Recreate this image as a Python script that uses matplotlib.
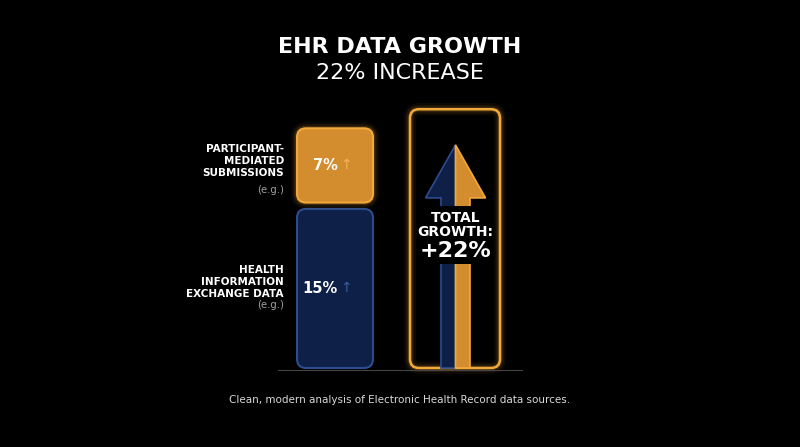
import matplotlib
matplotlib.use("Agg")
import matplotlib.pyplot as plt
from matplotlib.patches import FancyBboxPatch, Polygon

categories = ["HEALTH\nINFORMATION\nEXCHANGE DATA", "PARTICIPANT-\nMEDIATED\nSUBMISSIONS"]
values = [15, 7]
value_labels = ["15%", "7%"]
total = sum(values)

BG = "#000000"
ORANGE = "#D38D2E"
ORANGE_EDGE = "#F2A93B"
BLUE = "#0E2048"
BLUE_EDGE = "#2C4C8E"
S = 10.6  # px per percent

fig = plt.figure(figsize=(8, 4.47), dpi=100, facecolor=BG)
ax = fig.add_axes([0, 0, 1, 1])
ax.set_facecolor(BG)
ax.set_xlim(0, 800)
ax.set_ylim(-7.45, 34.7)
ax.axis("off")

def py(p):
    return (368 - p) / S

def glow_box(x0, y0, w, h, fc, ec, lw=1.5, glow=True):
    st = "round,pad=0,rounding_size=9"
    if glow:
        for k, a in [(9, 0.05), (6, 0.08), (3.5, 0.15)]:
            ax.add_patch(FancyBboxPatch((x0, y0), w, h, boxstyle=st,
                                        mutation_aspect=1 / S, fc="none", ec=ec, lw=k, alpha=a))
    ax.add_patch(FancyBboxPatch((x0, y0), w, h, boxstyle=st,
                                mutation_aspect=1 / S, fc=fc, ec=ec, lw=lw))

bx, bw, gap = 297, 76, 0.6
bars = ax.bar([bx + bw / 2] * 2, values, bottom=[0, values[0] + gap], width=bw, color="none")
fills = [(BLUE, BLUE_EDGE), (ORANGE, ORANGE_EDGE)]
for r, (fc, ec) in zip(bars, fills):
    glow_box(r.get_x(), r.get_y(), r.get_width(), r.get_height(), fc, ec, lw=1.5, glow=(fc == ORANGE))

for r, lab, acol in zip(bars, value_labels, ["#3A5A98", "#F6B35A"]):
    cy = r.get_y() + r.get_height() / 2
    ax.text(r.get_x() + r.get_width() / 2 + 3, cy, lab, color="white", fontsize=10.5,
            fontweight="bold", ha="right", va="center")
    ax.text(r.get_x() + r.get_width() / 2 + 11, cy, "↑", color=acol, fontsize=10,
            ha="center", va="center")

# category labels: (first-line top px, e.g. centre px)
label_pos = [(265, 305), (144, 190)]
for r, cat, (t, e) in zip(bars, categories, label_pos):
    ax.text(284, py(t), cat, color="white", fontsize=7.5, fontweight="bold", ha="right",
            va="top", linespacing=1.25)
    ax.text(284, py(e), "(e.g.)", color="#A0A0A0", fontsize=7.3, ha="right", va="center")

glow_box(410, 0, 90, total + 2.4, "none", ORANGE_EDGE, lw=1.8)

cx = 455.5
shaft_w, head_w = 14.5, 30
head_base, tip = py(198), py(145)
left = Polygon([(cx - shaft_w, 0), (cx - shaft_w, head_base), (cx - head_w, head_base), (cx, tip), (cx, 0)],
               closed=True, fc=BLUE, ec=BLUE_EDGE, lw=1.2)
right = Polygon([(cx, 0), (cx, tip), (cx + head_w, head_base), (cx + shaft_w, head_base), (cx + shaft_w, 0)],
                closed=True, fc=ORANGE, ec=ORANGE_EDGE, lw=1.2)
ax.add_patch(left)
ax.add_patch(right)
ax.add_patch(plt.Rectangle((cx - 38, py(264)), 76, (264 - 206) / S, fc=BG, ec="none"))
ax.text(cx, py(225), "TOTAL\nGROWTH:", color="white", fontsize=10, fontweight="bold",
        ha="center", va="center", linespacing=1.0)
ax.text(cx, py(251), f"+{total}%", color="white", fontsize=16, fontweight="bold", ha="center", va="center")

ax.plot([278, 522], [-0.2, -0.2], color="#444444", lw=0.8)

ax.text(400, py(47), "EHR DATA GROWTH", color="white", fontsize=16, fontweight="bold",
        ha="center", va="center")
ax.text(400, py(73), f"{total}% INCREASE", color="white", fontsize=16, ha="center", va="center")
ax.text(400, py(400), "Clean, modern analysis of Electronic Health Record data sources.",
        color="#D8D8D8", fontsize=7.5, ha="center", va="center")

fig.savefig("out.png", dpi=100, facecolor=BG)
